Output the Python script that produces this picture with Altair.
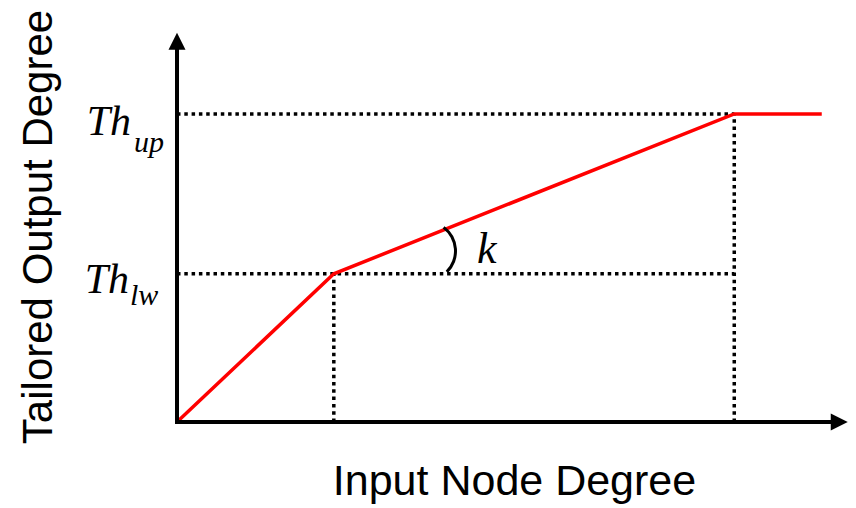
import altair as alt
import pandas as pd

# ---- data ----
input_degree = [0, 23.3, 82.8, 95.8]     # breakpoints of the tailoring curve
output_degree = [0, 38, 79, 79]
th_lw = 38
th_up = 79
knee_lw = 23.3
knee_up = 82.8
x_axis_end = 98.4
y_axis_end = 97.6

xs = alt.Scale(domain=[0, 99.7], nice=False, zero=False)
ys = alt.Scale(domain=[0, 100], nice=False, zero=False)

curve = pd.DataFrame({"x": input_degree, "y": output_degree})
guides = pd.DataFrame({
    "x": [0, 0, knee_lw, knee_up],
    "x2": [knee_up, knee_up, knee_lw, knee_up],
    "y": [th_lw, th_up, 0, 0],
    "y2": [th_lw, th_up, th_lw, th_up],
})
axes_df = pd.DataFrame({"x": [0, 0], "x2": [x_axis_end, 0], "y": [0, 0], "y2": [0, y_axis_end]})

base_x = lambda f: alt.X(f, type="quantitative", scale=xs, axis=None)
base_y = lambda f: alt.Y(f, type="quantitative", scale=ys, axis=None)

dotted = alt.Chart(guides).mark_rule(color="black", strokeWidth=3.5, strokeDash=[3.5, 3.8]).encode(
    x=base_x("x"), x2="x2", y=base_y("y"), y2="y2")

line = alt.Chart(curve).mark_line(color="#ff0000", strokeWidth=3.5).encode(
    x=base_x("x"), y=base_y("y"))

axis_lines = alt.Chart(axes_df).mark_rule(color="black", strokeWidth=4, strokeCap="square").encode(
    x=base_x("x"), x2="x2", y=base_y("y"), y2="y2")

up_arrow = alt.Chart(pd.DataFrame({"x": [0], "y": [y_axis_end]})).mark_point(
    shape="M-1,1L1,1L0,-1Z", filled=True, color="black", size=289, opacity=1).encode(
    x=base_x("x"), y=base_y("y"))

right_arrow = alt.Chart(pd.DataFrame({"x": [x_axis_end], "y": [0]})).mark_point(
    shape="M-1,-1L1,0L-1,1Z", filled=True, color="black", size=289, opacity=1).encode(
    x=base_x("x"), y=base_y("y"))

one = pd.DataFrame({"t": [0]})

arc = alt.Chart(one).mark_arc(color="black", radius=31, radius2=28, theta=0.64, theta2=2.36).encode(
    x=alt.value(249), y=alt.value(219))

serif = "Liberation Serif"
sans = "Liberation Sans"

def txt(s, x, y, size, font, align="left", italic=False, angle=0):
    kw = dict(text=s, font=font, fontSize=size, align=align, baseline="alphabetic", color="black")
    if italic:
        kw["fontStyle"] = "italic"
    if angle:
        kw["angle"] = angle
    return alt.Chart(one).mark_text(**kw).encode(x=alt.value(x), y=alt.value(y))

labels = [
    txt("Th", -46, 103, 42, serif, "right", True),
    txt("up", -43, 120, 30, serif, "left", True),
    txt("Th", -48, 261, 42, serif, "right", True),
    txt("lw", -47, 273, 30, serif, "left", True),
    txt("k", 300, 231, 44, serif, "left", True),
    txt("Input Node Degree", 337.5, 463, 43, sans, "center"),
    txt("Tailored Output Degree", -125, 195, 42, sans, "center", angle=270),
]

chart = alt.layer(dotted, line, axis_lines, up_arrow, right_arrow, arc, *labels).properties(
    width=671, height=390,
    autosize=alt.AutoSizeParams(type="none"),
    padding={"left": 169, "top": 24, "right": 0, "bottom": 86},
).configure_view(stroke=None)

chart.save("out.html", embed_options={"renderer": "svg", "actions": False})
